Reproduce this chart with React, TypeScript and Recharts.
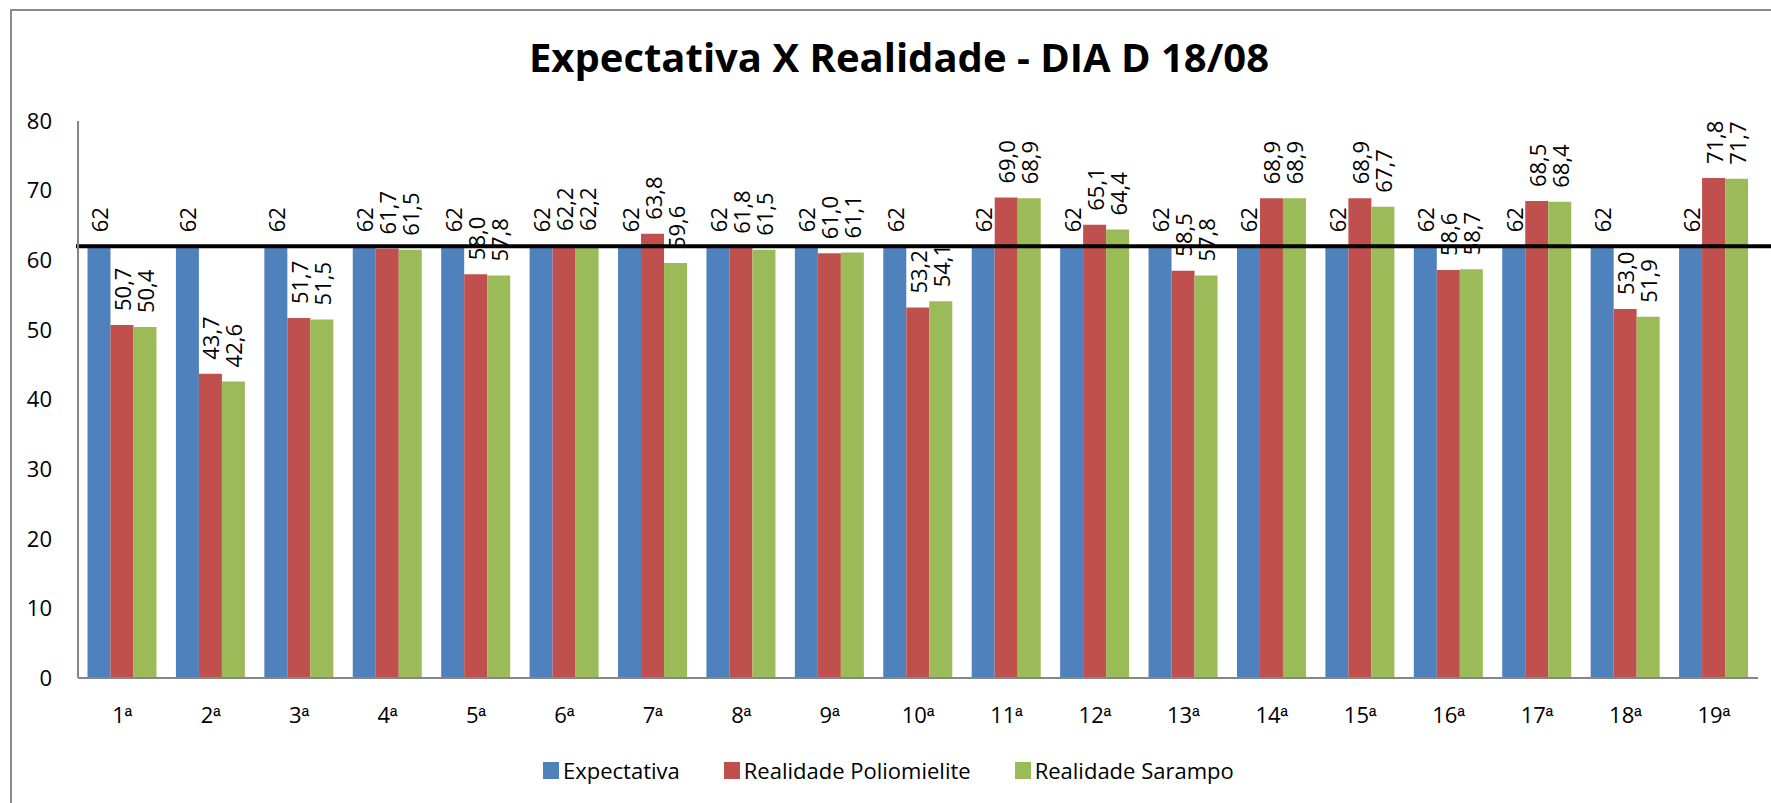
import React from 'react';
import { BarChart, Bar, XAxis, YAxis, ReferenceLine, LabelList } from 'recharts';

const categories = ['1ª','2ª','3ª','4ª','5ª','6ª','7ª','8ª','9ª','10ª','11ª','12ª','13ª','14ª','15ª','16ª','17ª','18ª','19ª'];
const expectativa = [62,62,62,62,62,62,62,62,62,62,62,62,62,62,62,62,62,62,62];
const poliomielite = [50.7,43.7,51.7,61.7,58.0,62.2,63.8,61.8,61.0,53.2,69.0,65.1,58.5,68.9,68.9,58.6,68.5,53.0,71.8];
const sarampo = [50.4,42.6,51.5,61.5,57.8,62.2,59.6,61.5,61.1,54.1,68.9,64.4,57.8,68.9,67.7,58.7,68.4,51.9,71.7];
const yTicks = [0,10,20,30,40,50,60,70,80];
const meta = 62;
const title = 'Expectativa X Realidade - DIA D 18/08';
const seriesNames = ['Expectativa', 'Realidade Poliomielite', 'Realidade Sarampo'];
const seriesColors = ['#4F81BD', '#C0504D', '#9BBB59'];

const data = categories.map((c, i) => ({
  name: c,
  expectativa: expectativa[i],
  polio: poliomielite[i],
  sarampo: sarampo[i],
}));

const FONT = "'Open Sans', 'DejaVu Sans', sans-serif";

const makeLabel = (integer: boolean) => (props: any) => {
  const { x, y, width, value } = props;
  const cx = Number(x) + Number(width) / 2;
  const ty = Number(y) - 14;
  const txt = integer ? String(Math.round(value)) : Number(value).toFixed(1).replace('.', ',');
  return (
    <text
      x={cx}
      y={ty}
      transform={`rotate(-90 ${cx} ${ty})`}
      textAnchor="start"
      dominantBaseline="central"
      fontSize={22}
      fontFamily={FONT}
      fill="#000"
    >
      {txt}
    </text>
  );
};

const XTick = (props: any) => {
  const { x, y, payload } = props;
  const s = String(payload.value);
  const num = s.replace('ª', '');
  return (
    <text x={x} y={y} textAnchor="middle" fontSize={22} fontFamily={FONT} fill="#000" dy={32}>
      <tspan>{num}</tspan>
      <tspan fontFamily="'Liberation Sans', Arial, sans-serif" fontSize={20}>ª</tspan>
    </text>
  );
};

const RefLineShape = (props: any) => {
  const { x1, y1, x2, y2 } = props;
  return <line x1={x1 - 2} y1={y1} x2={x2 + 20} y2={y2} stroke="#000" strokeWidth={4} />;
};

export default function App() {
  return (
    <div style={{ position: 'absolute', left: 0, top: 0, width: 1771, height: 803, overflow: 'hidden', background: '#fff', fontFamily: FONT }}>
      <div style={{ position: 'absolute', left: 10, top: 9, width: 1800, height: 820, borderTop: '2px solid #8a8a8a', borderLeft: '2px solid #8a8a8a' }} />
      <div style={{ position: 'absolute', left: 0, top: 37, width: 1798, textAlign: 'center', fontSize: 40, fontWeight: 700, lineHeight: '1', color: '#000', fontFamily: FONT, whiteSpace: 'nowrap' }}>
        {title}
      </div>
      <div style={{ position: 'absolute', left: 0, top: 0 }}>
        <BarChart
          width={1771}
          height={803}
          data={data}
          margin={{ top: 121, right: 13, bottom: 95, left: 0 }}
          barCategoryGap={9.5}
          barGap={0}
        >
          <XAxis
            dataKey="name"
            height={30}
            axisLine={{ stroke: '#868686', strokeWidth: 2 }}
            tickLine={false}
            tickSize={0}
            tickMargin={13}
            tick={<XTick />}
            interval={0}
          />
          <YAxis
            width={78}
            domain={[0, 80]}
            ticks={yTicks}
            axisLine={{ stroke: '#868686', strokeWidth: 2 }}
            tickLine={false}
            tickSize={0}
            tickMargin={26}
            tick={{ fontSize: 22, fill: '#000', fontFamily: FONT }}
            allowDataOverflow
          />
          <Bar dataKey="expectativa" name={seriesNames[0]} fill={seriesColors[0]} isAnimationActive={false}>
            <LabelList dataKey="expectativa" content={makeLabel(true)} />
          </Bar>
          <Bar dataKey="polio" name={seriesNames[1]} fill={seriesColors[1]} isAnimationActive={false}>
            <LabelList dataKey="polio" content={makeLabel(false)} />
          </Bar>
          <Bar dataKey="sarampo" name={seriesNames[2]} fill={seriesColors[2]} isAnimationActive={false}>
            <LabelList dataKey="sarampo" content={makeLabel(false)} />
          </Bar>
          <ReferenceLine y={meta} shape={RefLineShape} ifOverflow="visible" />
        </BarChart>
      </div>
      <div style={{ position: 'absolute', left: 543, top: 755, display: 'flex', alignItems: 'center', fontFamily: FONT, fontSize: 22, color: '#000', height: 30 }}>
        {seriesNames.map((n, i) => (
          <div key={n} style={{ display: 'flex', alignItems: 'center', marginRight: 44 }}>
            <div style={{ width: 16, height: 17, background: seriesColors[i], marginRight: 4 }} />
            <span>{n}</span>
          </div>
        ))}
      </div>
    </div>
  );
}
